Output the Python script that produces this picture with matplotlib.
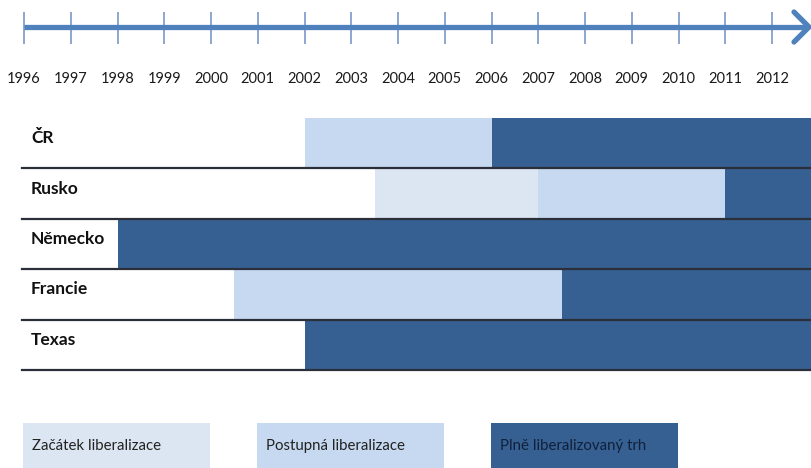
import matplotlib.pyplot as plt
from matplotlib.patches import Rectangle

plt.rcParams['font.family'] = ['Lato', 'DejaVu Sans']

# data
years = list(range(1996, 2013))
countries = ["ČR", "Rusko", "Německo", "Francie", "Texas"]
phase_names = ["Začátek liberalizace", "Postupná liberalizace", "Plně liberalizovaný trh"]
# start year of each phase per country (None = phase skipped)
start_begin = [None, 2003.5, None, None, None]
start_gradual = [2002, 2007, None, 2000.5, None]
start_full = [2006, 2011, 1998, 2007.5, 2002]
end_year = 2013

colors = ["#dce6f2", "#c6d9f0", "#376092"]
text_colors = ["#222222", "#222222", "#10203a"]

# pixel layout: 1996 at x=24, 46.75 px per year
px_per_year = 46.75
x0 = 1996 - 24 / px_per_year
x1 = 1996 + (812 - 24) / px_per_year

fig = plt.figure(figsize=(8.12, 4.68), dpi=100)
ax = fig.add_axes([0, 0, 1, 1])
ax.set_xlim(x0, x1)
ax.set_ylim(468, 0)
ax.axis('off')

def yr(px):
    return x0 + px / px_per_year

# timeline arrow
tl_y = 27
ax.plot([yr(24), yr(808)], [tl_y, tl_y], color="#4f81bd", lw=3.8, solid_capstyle='butt', zorder=3)
ax.plot([yr(794), yr(809), yr(794)], [tl_y - 15, tl_y, tl_y + 15], color="#4f81bd",
        lw=3.8, solid_capstyle='round', solid_joinstyle='round', zorder=3)
ax.vlines(years, 12, 44, color="#6f90c2", lw=1.1, zorder=2)
for y in years:
    ax.text(y, 79, str(y), ha='center', va='center', fontsize=10.5, color="#1a1a1a")

# rows
row_top = 118
row_h = 50.4
for i, name in enumerate(countries):
    yc = row_top + row_h * (i + 0.5)
    starts = [start_begin[i], start_gradual[i], start_full[i]]
    for k in range(3):
        if starts[k] is None:
            continue
        nxt = [s for s in starts[k + 1:] if s is not None]
        stop = nxt[0] if nxt else end_year
        ax.barh(yc, stop - starts[k], left=starts[k], height=row_h, color=colors[k],
                edgecolor='none', zorder=1)
    ax.text(yr(31), yc - 5, name, ha='left', va='center', fontsize=12.5,
            fontweight='bold', color="#111111", zorder=4)
    ax.plot([yr(22), x1], [row_top + row_h * (i + 1)] * 2, color="#2b2f3a", lw=1.6, zorder=3)

# legend boxes
box_x = [23, 257, 491]
box_w = 187
for k in range(3):
    ax.add_patch(Rectangle((yr(box_x[k]), 423), box_w / px_per_year, 50,
                           facecolor=colors[k], edgecolor='none', zorder=1))
    ax.text(yr(box_x[k] + 9), 446, phase_names[k], ha='left', va='center',
            fontsize=10.8, color=text_colors[k], zorder=2)

fig.savefig("out.png", dpi=100)
